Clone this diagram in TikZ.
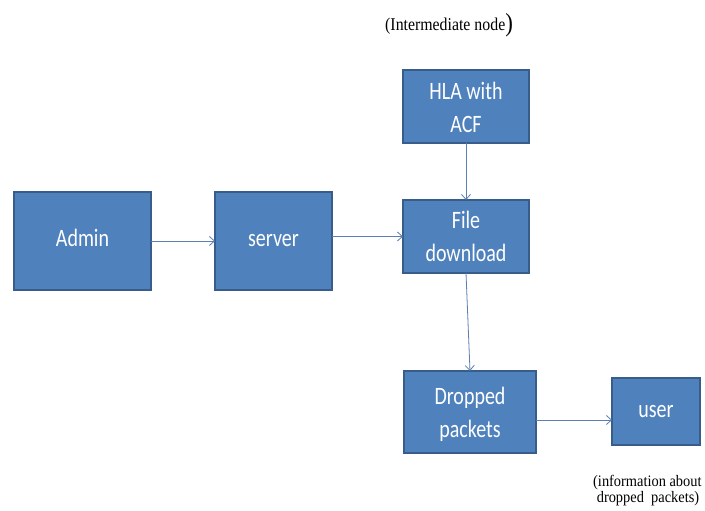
\documentclass[tikz,border=0pt]{standalone}
\usepackage{fontspec}
\usepackage{graphicx}
\setmainfont{Liberation Serif}
\newfontfamily\boxfont{Carlito}
\usetikzlibrary{arrows.meta}
\definecolor{boxfill}{HTML}{4F81BD}
\definecolor{boxline}{HTML}{385D8A}
\definecolor{linkcol}{HTML}{5A7FB0}
% narrow, centred block label; optional argument lowers the ink only
\newcommand\blocklabel[2][0pt]{\raisebox{#1}[\height][\depth]{\scalebox{0.8}[1]{\begin{tabular}{@{}c@{}}#2\end{tabular}}}}
% narrow caption, first line on the baseline
\newcommand\captiontext[1]{\scalebox{0.9}[1]{\begin{tabular}[t]{@{}l@{}}#1\end{tabular}}}
\tikzset{
  x=1pt, y=1pt,
  blockbox/.style={draw=boxline, line width=1.2pt, fill=boxfill, text=white,
    font=\boxfont\fontsize{25}{33}\selectfont,
    inner sep=0pt, outer sep=0pt},
  link/.style={draw=linkcol, line width=0.8pt,
    -{Straight Barb[length=5pt, width=9pt, line width=0.8pt]}},
  note/.style={inner sep=0pt, anchor=base west}
}
\begin{document}
\begin{tikzpicture}
\useasboundingbox[fill=white] (0,0) rectangle (705,511);
% boxes
\node[blockbox, minimum width=137, minimum height=98] (admin) at (82.5,270) {\blocklabel[1pt]{Admin}};
\node[blockbox, minimum width=117, minimum height=98] (server) at (273.5,270) {\blocklabel[1pt]{server}};
\node[blockbox, minimum width=126, minimum height=73] (hla) at (466,404.5) {\blocklabel[-3pt]{HLA with\\ACF}};
\node[blockbox, minimum width=126, minimum height=73] (file) at (466,274.5) {\blocklabel[-2pt]{File\\download}};
\node[blockbox, minimum width=132, minimum height=82] (drop) at (470,99) {\blocklabel[-2pt]{Dropped\\packets}};
\node[blockbox, minimum width=88, minimum height=67] (user) at (656,99.5) {\blocklabel[1pt]{user}};
% captions
\node[note, font=\fontsize{18}{20}\selectfont] (inter) at (385,480)
  {\scalebox{0.88}[1]{(Intermediate node{\fontsize{26}{26}\selectfont\raisebox{-1pt}{)}}}};
\node[note, font=\fontsize{16}{16}\selectfont] (info) at (593,24)
  {\captiontext{(information about\\\hspace*{4pt}dropped\ \ packets)}};
% connectors
\draw[link] (admin.east) -- (server.west);
\draw[link] (server.east |- file.west) -- (file.west);
\draw[link] (hla.south) -- (file.north);
\draw[link] (file.south) -- (drop.north);
\draw[link] ([yshift=-8pt]drop.east) -- ([yshift=-8.5pt]user.west);
\end{tikzpicture}
\end{document}
